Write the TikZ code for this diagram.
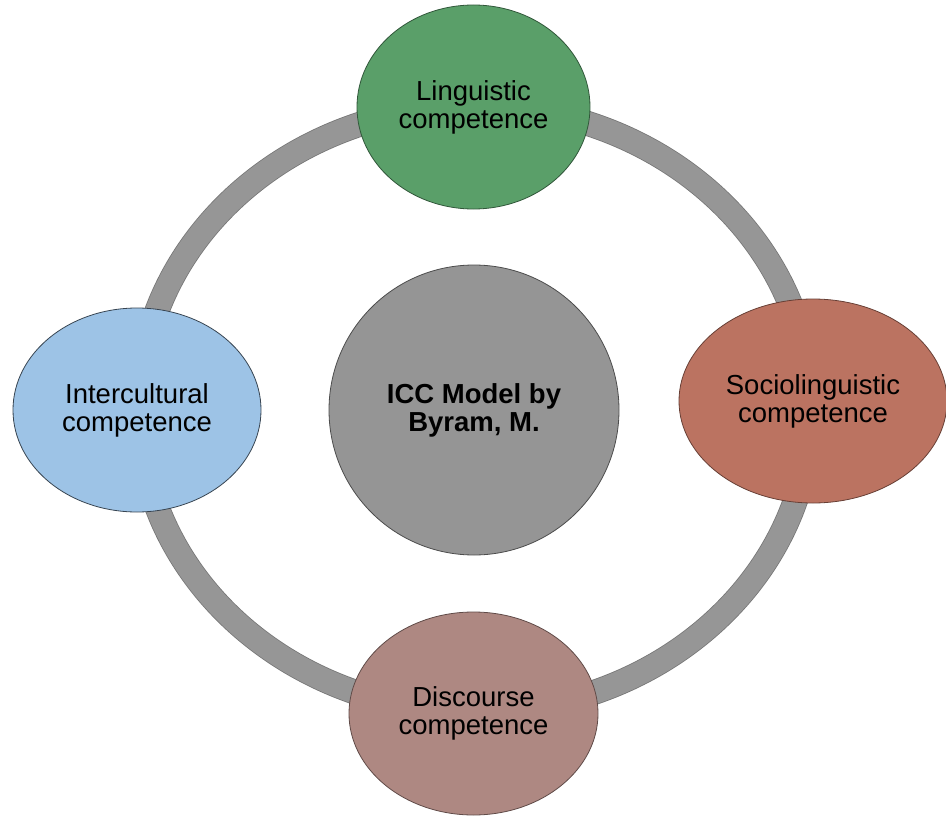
\documentclass[tikz,border=0pt]{standalone}
\usepackage{fontspec}
\setmainfont{Liberation Sans}
\usetikzlibrary{shapes.geometric}
\definecolor{ringgray}{HTML}{969696}
\definecolor{ringedge}{HTML}{767676}
\definecolor{coregray}{HTML}{959595}
\definecolor{lingreen}{HTML}{5A9F69}
\definecolor{sociored}{HTML}{BB7361}
\definecolor{discrose}{HTML}{AE8882}
\definecolor{interblue}{HTML}{9DC3E6}

\begin{document}
\begin{tikzpicture}[
  x=1pt, y=-1pt,
  comp/.style={ellipse, draw=#1!55!black, fill=#1, line width=0.8pt,
               inner sep=0pt, align=center,
               font=\fontsize{27.5}{28}\selectfont},
  core/.style={circle, draw=black!70, fill=coregray, line width=0.8pt,
               minimum size=290pt, inner sep=0pt, align=center,
               font=\fontsize{27.5}{28}\selectfont\bfseries}
]
\useasboundingbox (0,0) rectangle (946,816);

% the ring behind everything
\draw[ringedge, line width=25pt]   (475,409) ellipse [x radius=336, y radius=303];
\draw[ringgray, line width=23.4pt] (475,409) ellipse [x radius=336, y radius=303];

\node[core] (model) at (474,410) {ICC Model by\\Byram, M.};

\node[comp=lingreen,  minimum width=233pt, minimum height=204pt] (ling)  at (473.5,107)   {Linguistic\\competence};
\node[comp=sociored,  minimum width=268pt, minimum height=204pt] (socio) at (813,401)     {Sociolinguistic\\competence};
\node[comp=discrose,  minimum width=249pt, minimum height=203pt] (disc)  at (473.5,713.5) {Discourse\\competence};
\node[comp=interblue, minimum width=248pt, minimum height=204pt, draw=interblue!35!black] (inter) at (137,410) {Intercultural\\competence};
\end{tikzpicture}
\end{document}
